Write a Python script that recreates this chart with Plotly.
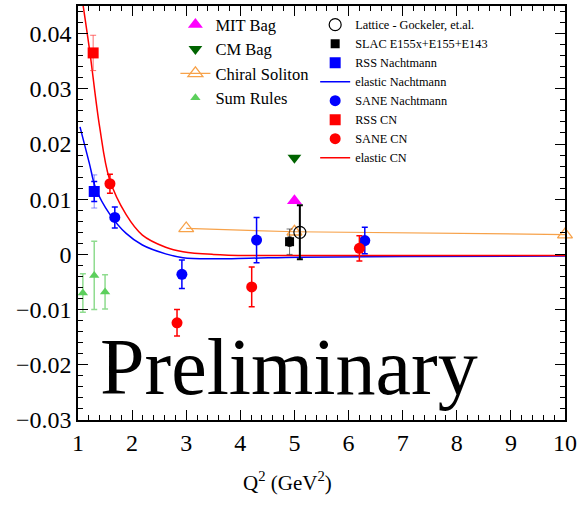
import plotly.graph_objects as go

# ---- data: d2 of the proton vs Q^2 ----
# elastic contributions (curves)
el_n_q2 = [1.037, 1.21, 1.33, 1.58, 1.89, 2.19, 2.62, 2.94, 3.5, 4.17, 5.1, 7.0, 10.0]
el_n_d2 = [0.0231, 0.0165, 0.0119, 0.0074, 0.0038, 0.0017, 0.0001, -0.0006, -0.0008, -0.0007, -0.0005, -0.0004, -0.0003]
el_cn_q2 = [1.087, 1.22, 1.40, 1.58, 1.89, 2.19, 2.62, 2.94, 3.5, 4.17, 5.1, 7.0, 10.0]
el_cn_d2 = [0.0456, 0.0366, 0.0231, 0.0137, 0.0072, 0.0035, 0.0013, 0.0005, 0.0000, -0.0002, -0.0002, -0.0002, -0.0002]

# measurements
sane_cn_q2 = [1.59, 2.83, 4.21, 6.20]
sane_cn_d2 = [0.0128, -0.0124, -0.0059, 0.0011]
sane_cn_err = [0.0017, 0.0024, 0.0036, 0.0023]

sane_n_q2 = [1.68, 2.92, 4.30, 6.30]
sane_n_d2 = [0.0067, -0.0036, 0.0026, 0.0025]
sane_n_err = [0.0019, 0.0026, 0.0041, 0.0024]

rss_cn_q2 = [1.28]
rss_cn_d2 = [0.0365]
rss_cn_stat = [0.0005]
rss_cn_syst = [0.0032]

rss_n_q2 = [1.30]
rss_n_d2 = [0.0114]
rss_n_stat = [0.0018]
rss_n_syst = [0.0030]

slac_q2 = [4.91]
slac_d2 = [0.0023]
slac_stat = [0.0008]
slac_syst = [0.0023]

lattice_q2 = [5.10]
lattice_d2 = [0.0040]
lattice_err = [0.0049]

# models
mit_q2, mit_d2 = [5.0], [0.0097]
cm_q2, cm_d2 = [5.0], [0.0175]
chiral_q2 = [3.0, 5.0, 10.0]
chiral_d2 = [0.0047, 0.0041, 0.0036]
sum_q2 = [1.09, 1.30, 1.50]
sum_d2 = [-0.0070, -0.0038, -0.0068]
sum_err = [0.0035, 0.0062, 0.0031]

x_ticks = [1, 2, 3, 4, 5, 6, 7, 8, 9, 10]
y_ticks = [-0.03, -0.02, -0.01, 0, 0.01, 0.02, 0.03, 0.04]
y_ticktext = ["\u22120.03", "\u22120.02", "\u22120.01", "0", "0.01", "0.02", "0.03", "0.04"]

SERIF = "Liberation Serif, Times New Roman, serif"
RED, BLUE = "#ff0000", "#0000ff"


def errs(arr, color, thick=1.5, width=3):
    return dict(type="data", array=arr, visible=True, color=color,
                thickness=thick, width=width)


fig = go.Figure()

# elastic curves
fig.add_trace(go.Scatter(x=el_n_q2, y=el_n_d2, mode="lines", name="elastic Nachtmann",
                         line=dict(color=BLUE, width=1.5, shape="spline"),
                         legend="legend2", legendrank=4))
fig.add_trace(go.Scatter(x=el_cn_q2, y=el_cn_d2, mode="lines", name="elastic CN",
                         line=dict(color=RED, width=1.5, shape="spline"),
                         legend="legend2", legendrank=8))

# chiral soliton model
fig.add_trace(go.Scatter(x=chiral_q2, y=chiral_d2, mode="lines+markers", name="Chiral Soliton",
                         line=dict(color="#f7a24a", width=1.2),
                         marker=dict(symbol="triangle-up-open", size=13, color="#f7a24a",
                                     line=dict(width=1.3)),
                         cliponaxis=False,
                         legend="legend", legendrank=3))

# sum rules
fig.add_trace(go.Scatter(x=sum_q2, y=sum_d2, mode="markers", name="Sum Rules",
                         marker=dict(symbol="triangle-up", size=9, color="#5ccf5c"),
                         error_y=errs(sum_err, "#8fdc8f"),
                         legend="legend", legendrank=4))

# systematic brackets
fig.add_trace(go.Scatter(x=rss_cn_q2, y=rss_cn_d2, mode="markers", showlegend=False,
                         marker=dict(size=1, color="rgba(0,0,0,0)"),
                         error_y=errs(rss_cn_syst, "rgba(255,60,60,0.75)", 1, 3)))
fig.add_trace(go.Scatter(x=rss_n_q2, y=rss_n_d2, mode="markers", showlegend=False,
                         marker=dict(size=1, color="rgba(0,0,0,0)"),
                         error_y=errs(rss_n_syst, "rgba(60,60,255,0.6)", 1, 3)))
fig.add_trace(go.Scatter(x=slac_q2, y=slac_d2, mode="markers", showlegend=False,
                         marker=dict(size=1, color="rgba(0,0,0,0)"),
                         error_y=errs(slac_syst, "rgba(0,0,0,0.55)", 1, 3)))

# lattice
fig.add_trace(go.Scatter(x=lattice_q2, y=lattice_d2, mode="markers",
                         name="Lattice - Gockeler, et.al.",
                         marker=dict(symbol="circle-open", size=12, color="#000000",
                                     line=dict(width=1.2)),
                         error_y=errs(lattice_err, "#000000", 2, 3),
                         legend="legend2", legendrank=1))
# SLAC
fig.add_trace(go.Scatter(x=slac_q2, y=slac_d2, mode="markers", name="SLAC E155x+E155+E143",
                         marker=dict(symbol="square", size=9, color="#000000"),
                         error_y=errs(slac_stat, "#000000", 1.5, 2),
                         legend="legend2", legendrank=2))

# models at Q^2 = 5
fig.add_trace(go.Scatter(x=mit_q2, y=mit_d2, mode="markers", name="MIT Bag",
                         marker=dict(symbol="triangle-up", size=13, color="#ff00ff"),
                         legend="legend", legendrank=1))
fig.add_trace(go.Scatter(x=cm_q2, y=cm_d2, mode="markers", name="CM Bag",
                         marker=dict(symbol="triangle-down", size=12, color="#006400"),
                         legend="legend", legendrank=2))

# RSS and SANE
fig.add_trace(go.Scatter(x=rss_n_q2, y=rss_n_d2, mode="markers", name="RSS Nachtmann",
                         marker=dict(symbol="square", size=11, color=BLUE),
                         error_y=errs(rss_n_stat, BLUE, 1.5, 3),
                         legend="legend2", legendrank=3))
fig.add_trace(go.Scatter(x=sane_n_q2, y=sane_n_d2, mode="markers", name="SANE Nachtmann",
                         marker=dict(symbol="circle", size=11, color=BLUE),
                         error_y=errs(sane_n_err, BLUE, 1.5, 3),
                         legend="legend2", legendrank=5))
fig.add_trace(go.Scatter(x=rss_cn_q2, y=rss_cn_d2, mode="markers", name="RSS CN",
                         marker=dict(symbol="square", size=11, color=RED),
                         error_y=errs(rss_cn_stat, RED, 1.5, 3),
                         legend="legend2", legendrank=6))
fig.add_trace(go.Scatter(x=sane_cn_q2, y=sane_cn_d2, mode="markers", name="SANE CN",
                         marker=dict(symbol="circle", size=11, color=RED),
                         error_y=errs(sane_cn_err, RED, 1.5, 3),
                         legend="legend2", legendrank=7))

axis_common = dict(showline=True, linecolor="#000000", linewidth=1.5, mirror="allticks",
                   ticks="inside", ticklen=10, tickwidth=1, tickcolor="#000000",
                   showgrid=False, zeroline=False,
                   tickfont=dict(family=SERIF, size=24, color="#000000"))

fig.update_layout(
    width=581, height=505,
    margin=dict(l=78, r=15, t=4, b=85),
    paper_bgcolor="white", plot_bgcolor="white",
    font=dict(family=SERIF, color="#000000"),
    xaxis=dict(range=[1, 10], tickvals=x_ticks, ticktext=[str(v) for v in x_ticks],
               minor=dict(ticks="inside", ticklen=5, dtick=0.2, tickcolor="#000000"),
               **axis_common),
    yaxis=dict(range=[-0.03, 0.045], tickvals=y_ticks, ticktext=y_ticktext,
               minor=dict(ticks="inside", ticklen=5, dtick=0.002, tickcolor="#000000"),
               **axis_common),
    legend=dict(x=0.20, y=0.997, xanchor="left", yanchor="top", bgcolor="rgba(0,0,0,0)",
                font=dict(family=SERIF, size=16.5, color="#000000"), traceorder="normal"),
    legend2=dict(x=0.487, y=0.99, xanchor="left", yanchor="top", bgcolor="rgba(0,0,0,0)",
                 font=dict(family=SERIF, size=12.3, color="#000000"), traceorder="normal"),
    showlegend=True,
)

fig.add_annotation(text="Q<sup>2</sup> (GeV<sup>2</sup>)", xref="paper", yref="paper",
                   x=0.43, y=-0.148, xanchor="center", yanchor="middle", showarrow=False,
                   font=dict(family=SERIF, size=21, color="#000000"))
fig.add_annotation(text="Preliminary", xref="paper", yref="paper",
                   x=0.434, y=0.127, xanchor="center", yanchor="middle", showarrow=False,
                   font=dict(family=SERIF, size=80, color="#000000"))

fig.write_html("out.html")
